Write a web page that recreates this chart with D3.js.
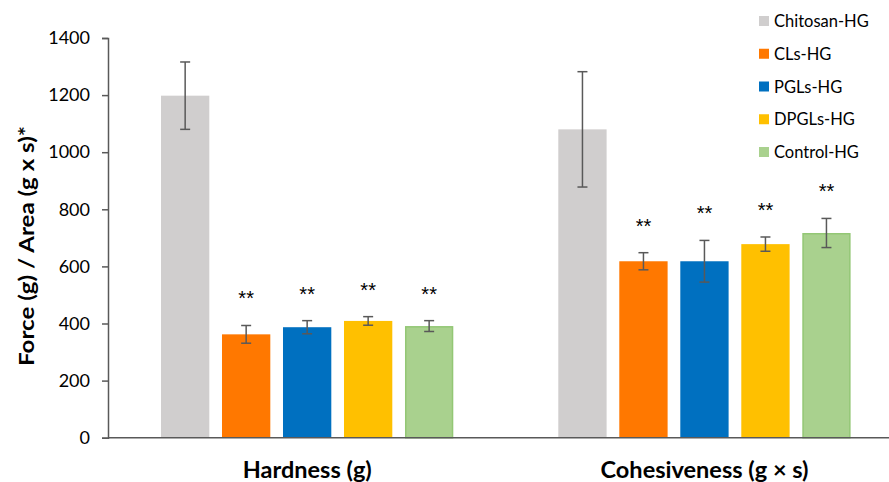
<!DOCTYPE html>
<html>
<head>
<meta charset="utf-8">
<script src="https://cdn.jsdelivr.net/npm/d3@7/dist/d3.min.js"></script>
<style>
  html, body { margin: 0; padding: 0; background: #fff; }
  svg { display: block; font-family: Lato, "Open Sans", sans-serif; }
</style>
</head>
<body>
<svg id="chart" width="889" height="482"></svg>
<script>
// Texture profile: two measures, five hydrogel formulations
const categories = ["Hardness (g)", "Cohesiveness (g × s)"];
const seriesNames = ["Chitosan-HG", "CLs-HG", "PGLs-HG", "DPGLs-HG", "Control-HG"];
const seriesColors = ["#d0cece", "#ff7800", "#0070c0", "#ffc000", "#a9d18e"];
const seriesStroke = [null, null, null, null, "#93c775"];
// mean values per series, one entry per category
const chitosanHG = [1198, 1080];
const clsHG = [362, 618];
const pglsHG = [387, 618];
const dpglsHG = [409, 678];
const controlHG = [391, 717];
// standard deviations
const chitosanErr = [118, 202];
const clsErr = [31, 30];
const pglsErr = [23, 73];
const dpglsErr = [15, 25];
const controlErr = [19, 51];
// significance markers
const marks = [["", "**", "**", "**", "**"], ["", "**", "**", "**", "**"]];
const yTicks = [0, 200, 400, 600, 800, 1000, 1200, 1400];

const values = [chitosanHG, clsHG, pglsHG, dpglsHG, controlHG];
const errors = [chitosanErr, clsErr, pglsErr, dpglsErr, controlErr];

const svg = d3.select("#chart");
const axisColor = "#595959";

const y = d3.scaleLinear().domain([0, 1400]).range([437.7, 38]);
const x0 = d3.scaleBand().domain(categories).range([108.6, 903.2]).paddingInner(0).paddingOuter(0);
const x1 = d3.scaleBand().domain(seriesNames).range([52.4, 52.4 + 292.3]).paddingInner(0.208).paddingOuter(0);

// bars, error bars and significance markers
const groups = svg.append("g").selectAll("g")
  .data(categories)
  .join("g")
  .attr("transform", d => `translate(${x0(d)},0)`);

groups.each(function(cat, ci) {
  const g = d3.select(this);
  seriesNames.forEach((s, si) => {
    const v = values[si][ci];
    const e = errors[si][ci];
    const bx = x1(s);
    const bw = x1.bandwidth();
    const inset = seriesStroke[si] ? 0.75 : 0;
    g.append("rect")
      .attr("x", bx + inset)
      .attr("y", y(v) + inset)
      .attr("width", bw - 2 * inset)
      .attr("height", y(0) - y(v) - inset)
      .attr("fill", seriesColors[si])
      .attr("stroke", seriesStroke[si] || "none")
      .attr("stroke-width", 1.5);
    const cx = bx + bw / 2;
    const cap = 5;
    g.append("line").attr("x1", cx).attr("x2", cx)
      .attr("y1", y(v + e)).attr("y2", y(v - e))
      .attr("stroke", axisColor).attr("stroke-width", 1.5);
    [v + e, v - e].forEach(t => {
      g.append("line").attr("x1", cx - cap).attr("x2", cx + cap)
        .attr("y1", y(t)).attr("y2", y(t))
        .attr("stroke", axisColor).attr("stroke-width", 1.5);
    });
    if (marks[ci][si]) {
      g.append("text")
        .attr("x", cx)
        .attr("y", y(v + e) - 20)
        .attr("text-anchor", "middle")
        .attr("font-family", "'Liberation Sans', Arial, sans-serif")
        .attr("font-size", 20)
        .attr("fill", "#000")
        .text(marks[ci][si]);
    }
  });
});

// y axis
const yAxis = d3.axisLeft(y).tickValues(yTicks).tickSize(6).tickPadding(12).tickFormat(d3.format("d"));
const yg = svg.append("g").attr("transform", "translate(108,0)").call(yAxis);
yg.select(".domain").attr("stroke", axisColor).attr("stroke-width", 1.5);
yg.selectAll(".tick line").attr("stroke", axisColor).attr("stroke-width", 1.5);
yg.selectAll(".tick text").attr("font-size", 18).attr("fill", "#000")
  .attr("font-family", "Lato, sans-serif");

// x axis baseline
svg.append("line").attr("x1", 108).attr("x2", 889)
  .attr("y1", y(0)).attr("y2", y(0))
  .attr("stroke", axisColor).attr("stroke-width", 1.5);

// category labels
const catWidths = [129, 208];
svg.append("g").selectAll("text")
  .data(categories)
  .join("text")
  .attr("x", d => x0(d) + x0.bandwidth() / 2)
  .attr("y", 478)
  .attr("text-anchor", "middle")
  .attr("font-size", 22)
  .attr("font-weight", "bold")
  .attr("fill", "#000")
  .attr("textLength", (d, i) => catWidths[i])
  .attr("lengthAdjust", "spacingAndGlyphs")
  .text(d => d);

// y axis title
svg.append("text")
  .attr("transform", "translate(34,246) rotate(-90)")
  .attr("text-anchor", "middle")
  .attr("font-size", 21)
  .attr("font-weight", "bold")
  .attr("fill", "#000")
  .attr("textLength", 240)
  .attr("lengthAdjust", "spacingAndGlyphs")
  .text("Force (g) / Area (g x s)*");

// legend
const legend = svg.append("g").attr("transform", "translate(759,0)");
seriesNames.forEach((s, i) => {
  const ly = 21 + i * 32.75;
  legend.append("rect")
    .attr("x", 0).attr("y", ly - 5).attr("width", 10).attr("height", 10)
    .attr("fill", seriesColors[i]);
  legend.append("text")
    .attr("x", 15).attr("y", ly + 6)
    .attr("font-size", 16.5)
    .attr("fill", "#000")
    .text(s);
});
</script>
</body>
</html>
